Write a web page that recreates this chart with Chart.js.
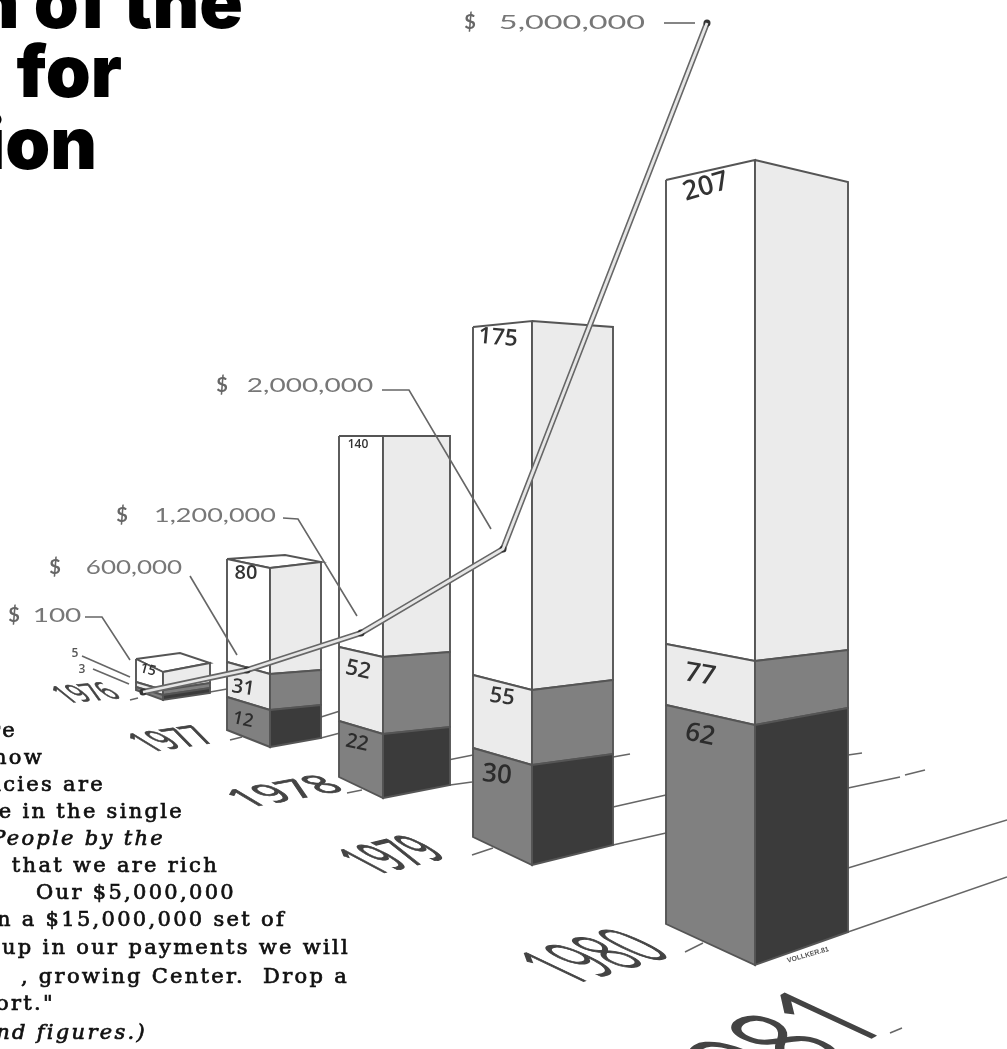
<!DOCTYPE html>
<html>
<head>
<meta charset="utf-8">
<title>Growth chart</title>
<script src="https://cdn.jsdelivr.net/npm/chart.js@4"></script>
<style>
    html, body { margin: 0; padding: 0; background: #fff; overflow: hidden; }
    #page { position: relative; width: 1007px; height: 1049px; overflow: hidden; background: #fff; filter: blur(0.5px); }
    canvas { position: absolute; left: 0; top: 0; }
    .head { position: absolute; font: 900 72px/76px Inter, Roboto, sans-serif; color: #000; white-space: pre; letter-spacing: 0; }
    .copy { position: absolute; font: 400 21px/22px "DejaVu Serif", serif; color: #111; white-space: pre; letter-spacing: 2.3px; -webkit-text-stroke: 0.7px #111; }
    .copy.it { font-style: italic; }
</style>
</head>
<body>
<div id="page">
    <canvas id="growthChart" width="1007" height="1049"></canvas>
    <div id="copy"></div>
</div>
<script>
// values printed in the picture
const years = ['1976', '1977', '1978', '1979', '1980', '1981'];
const whiteCounts = [15, 80, 140, 175, 207];
const lightCounts = [5, 31, 52, 55, 77];
const darkCounts = [3, 12, 22, 30, 62];
const dollars = [100, 600000, 1200000, 2000000, 5000000];

// bars as drawn: the artwork is in perspective and not to scale, so levels are read off the picture
const leftEdge = [136, 227, 339, 473, 666];
const nearEdge = [163, 270, 383, 532, 755];
const rightEdge = [210, 321, 450, 613, 848];
const leftTop = [659, 559, 436, 327, 180];
const nearTop = [672, 568, 436, 321, 160];
const rightTop = [663, 562, 436, 327, 182];
const leftUpper = [682, 662, 647, 675, 644];
const nearUpper = [690, 674, 657, 690, 661];
const rightUpper = [683, 670, 652, 680, 650];
const leftLower = [687, 697, 721, 748, 705];
const nearLower = [695, 710, 734, 765, 725];
const rightLower = [688, 705, 727, 754, 708];
const leftBase = [690, 730, 777, 837, 924];
const nearBase = [700, 747, 798, 865, 965];
const rightBase = [693, 738, 785, 845, 932];
const backEdge = [180, 285];
const backTop = [653, 555];

// money line as drawn
const moneyX = [143, 247, 361, 503, 707];
const moneyY = [692, 670, 633, 549, 23];

const colors = { white: '#ffffff', pale: '#ebebeb', mid: '#808080', dark: '#3b3b3b', ink: '#555555' };

const datasets = [];

function addPath(xs, ys, opts) {
    datasets.push(Object.assign({
        data: xs.map((x, i) => ({ x: x, y: ys[i] })),
        showLine: true,
        pointRadius: 0,
        borderColor: colors.ink,
        borderWidth: 1.9,
        fill: false
    }, opts || {}));
}

function addFace(xa, xb, ya, yb, yc, yd, color) {
    addPath([xa, xb, xb, xa, xa], [ya, yb, yc, yd, ya], {
        fill: 'shape',
        backgroundColor: color
    });
}

// ground lines running back from each bar
const groundX = [[210, 227], [321, 340], [321, 340], [448, 473], [450, 472], [613, 630], [613, 666], [613, 666], [848, 862], [848, 900], [905, 925], [848, 1007], [848, 1007], [130, 138], [230, 242], [347, 362], [472, 493], [685, 703], [890, 902]];
const groundY = [[692, 689], [717, 711], [738, 733], [760, 755], [785, 782], [757, 754], [807, 795], [845, 833], [755, 753], [788, 777], [775, 770], [868, 820], [932, 877], [700, 698], [740, 737], [793, 790], [855, 848], [952, 943], [1033, 1028]];
groundX.forEach((xs, i) => addPath(xs, groundY[i], { borderWidth: 1.5, borderColor: '#666666' }));

years.slice(0, 5).forEach((year, i) => {
    if (i < backEdge.length) {
        addPath([leftEdge[i], backEdge[i], rightEdge[i], nearEdge[i], leftEdge[i]],
            [leftTop[i], backTop[i], rightTop[i], nearTop[i], leftTop[i]],
            { fill: 'shape', backgroundColor: colors.white });
    }
    addFace(leftEdge[i], nearEdge[i], leftTop[i], nearTop[i], nearUpper[i], leftUpper[i], colors.white);
    addFace(nearEdge[i], rightEdge[i], nearTop[i], rightTop[i], rightUpper[i], nearUpper[i], colors.pale);
    addFace(leftEdge[i], nearEdge[i], leftUpper[i], nearUpper[i], nearLower[i], leftLower[i], colors.pale);
    addFace(nearEdge[i], rightEdge[i], nearUpper[i], rightUpper[i], rightLower[i], nearLower[i], colors.mid);
    addFace(leftEdge[i], nearEdge[i], leftLower[i], nearLower[i], nearBase[i], leftBase[i], colors.mid);
    addFace(nearEdge[i], rightEdge[i], nearLower[i], rightLower[i], rightBase[i], nearBase[i], colors.dark);
});

// leaders from the dollar labels
const leaderX = [[664, 695], [382, 409, 491], [283, 298, 357], [190, 237], [85, 102, 130], [82, 130], [93, 129]];
const leaderY = [[23, 23], [390, 390, 529], [518, 519, 616], [576, 655], [617, 617, 660], [656, 677], [669, 684]];
leaderX.forEach((xs, i) => addPath(xs, leaderY[i], { borderWidth: 1.6, borderColor: '#666666' }));

// money line: dark outline with a pale core
addPath(moneyX, moneyY, { borderWidth: 6, borderColor: '#666666', pointRadius: 3.5, pointBackgroundColor: '#333333', pointBorderWidth: 0 });
addPath(moneyX, moneyY, { borderWidth: 2.8, borderColor: '#e6e6e6' });

datasets.forEach((d, i) => { d.order = datasets.length - i; });

function drawText(ctx, text, x, y, font, color, angle, stretch) {
    ctx.save();
    ctx.translate(x, y);
    ctx.rotate((angle || 0) * Math.PI / 180);
    ctx.scale(stretch || 1, 1);
    ctx.font = font;
    ctx.fillStyle = color;
    ctx.textAlign = 'center';
    ctx.textBaseline = 'middle';
    ctx.fillText(text, 0, 0);
    ctx.restore();
}

// year label painted flat on the ground: baseline and letter-up direction
function drawGroundText(ctx, text, ox, oy, bx, by, ux, uy, weight) {
    ctx.save();
    ctx.font = weight + ' 100px "Open Sans", Lato, sans-serif';
    const w = ctx.measureText(text).width;
    const h = 72;
    ctx.translate(ox, oy);
    ctx.transform(bx / w, by / w, -ux / h, -uy / h, 0, 0);
    ctx.fillStyle = '#444444';
    ctx.strokeStyle = '#444444';
    ctx.lineWidth = 2.5;
    ctx.textAlign = 'left';
    ctx.textBaseline = 'alphabetic';
    ctx.fillText(text, 0, 0);
    ctx.strokeText(text, 0, 0);
    ctx.restore();
}

const picturePlugin = {
    id: 'pictureText',
    afterDraw(chart) {
        const ctx = chart.ctx;
        const ink = '#333333';
        const hand = '"Open Sans", Lato, sans-serif';

        // year labels
        const yearGround = [
            [67, 703, 56, -5, -20, -16, 400],
            [150, 752, 70, -10, -28, -17, 400],
            [247, 808, 100, -18, -27, -16, 400],
            [375, 875, 75, -18, -43, -23, 400],
            [570, 985, 105, -30, -59, -28, 300],
            [724, 1125, 168, -100, -90, -42, 300]
        ];
        years.forEach((year, i) => drawGroundText(ctx, year, ...yearGround[i]));

        // printed counts on the bars
        const whiteAt = [[148, 670, 14, 15], [246, 573, 20, 0], [358, 445, 12, 0], [498, 338, 23, 5], [706, 187, 27, -16]];
        const lightAt = [[243, 688, 20, 8], [358, 670, 22, 12], [502, 697, 22, 8], [700, 675, 27, 10]];
        const darkAt = [[243, 720, 18, 12], [357, 743, 20, 12], [497, 775, 26, 5], [700, 735, 26, 12]];
        whiteCounts.forEach((v, i) => {
            const p = whiteAt[i];
            drawText(ctx, String(v), p[0], p[1], '600 ' + p[2] + 'px ' + hand, ink, p[3]);
        });
        lightCounts.slice(1).forEach((v, i) => {
            const p = lightAt[i];
            drawText(ctx, String(v), p[0], p[1], '600 ' + p[2] + 'px ' + hand, ink, p[3]);
        });
        darkCounts.slice(1).forEach((v, i) => {
            const p = darkAt[i];
            drawText(ctx, String(v), p[0], p[1], '600 ' + p[2] + 'px ' + hand, '#2c2c2c', p[3]);
        });
        drawText(ctx, String(lightCounts[0]), 75, 654, '600 12px ' + hand, '#555', 0);
        drawText(ctx, String(darkCounts[0]), 82, 670, '600 12px ' + hand, '#555', 0);

        // dollar labels
        const dollarAt = [[57, 616, 1.4, 14], [134, 568, 1.3, 55], [215, 516, 1.35, 122], [310, 386, 1.4, 222], [572, 23, 1.62, 470]];
        dollars.forEach((v, i) => {
            const p = dollarAt[i];
            drawText(ctx, v.toLocaleString('en-US'), p[0], p[1], '400 20px Lato, sans-serif', '#777', 0, p[2]);
            drawText(ctx, '$', p[3], p[1], '700 20px Lato, sans-serif', '#666', 0);
        });

        // artist signature
        drawText(ctx, 'VOLLKER.81', 808, 955, '700 7px "Liberation Sans", sans-serif', '#555', -16);
    }
};

new Chart(document.getElementById('growthChart').getContext('2d'), {
    type: 'scatter',
    data: { datasets: datasets },
    options: {
        responsive: false,
        animation: false,
        clip: false,
        layout: { padding: 0, autoPadding: false },
        plugins: { legend: { display: false }, tooltip: { enabled: false } },
        scales: {
            x: { type: 'linear', display: false, min: 0, max: 1007 },
            y: { type: 'linear', display: false, min: 0, max: 1049, reverse: true }
        }
    },
    plugins: [picturePlugin]
});

// headline and body copy, cut off by the page edge as in the scan
const headLines = [
    { text: 'n of the', right: 243, base: 29 },
    { text: 'for', right: 122, base: 98 },
    { text: 'ion', right: 97, base: 170 }
];
const copyLines = [
    ['re', 17, 730], ['how', 44, 757], ['ncies are', 105, 784], ['e in the single', 184, 811],
    ['People by the', 165, 838, true], ['that we are rich', 219, 865], ['Our $5,000,000', 236, 892],
    ['n a $15,000,000 set of', 286, 919], ['up in our payments we will', 350, 947],
    [', growing Center.  Drop a', 349, 976], ['ort."', 55, 1003], ['nd figures.)', 147, 1032, true]
];
const page = document.getElementById('page');
headLines.forEach(line => {
    const el = document.createElement('div');
    el.className = 'head';
    el.textContent = line.text;
    el.style.right = (1007 - line.right) + 'px';
    el.style.top = (line.base - 65) + 'px';
    page.appendChild(el);
});
copyLines.forEach(line => {
    const el = document.createElement('div');
    el.className = 'copy' + (line[3] ? ' it' : '');
    el.textContent = line[0];
    el.style.right = (1007 - line[1]) + 'px';
    el.style.top = (line[2] - 11) + 'px';
    page.appendChild(el);
});
</script>
</body>
</html>
